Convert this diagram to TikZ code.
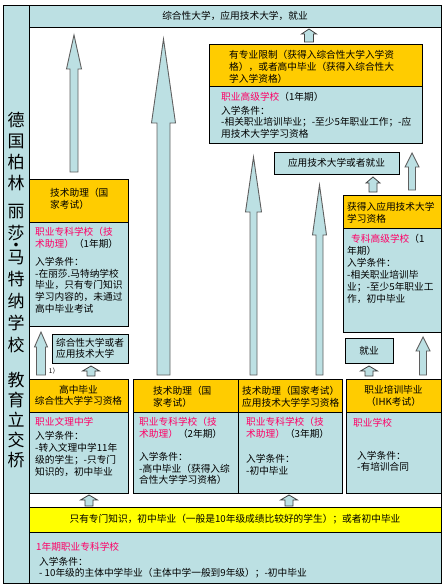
\documentclass[tikz,border=0pt]{standalone}
\usepackage{fontspec}
\setmainfont{Noto Sans CJK SC}
\usetikzlibrary{positioning,calc}

\definecolor{paleblue}{RGB}{188,224,227}
\definecolor{headyellow}{RGB}{255,204,0}
\definecolor{baryellow}{RGB}{255,255,0}
\definecolor{schoolpink}{RGB}{255,0,102}
\definecolor{arrowline}{RGB}{95,95,95}

\newcommand{\pink}[1]{\textcolor{schoolpink}{#1}}
% foot, tip, shaft half width, head half width, head length
\newcommand{\blockup}[6][arrowbody]{%
  \draw[#1] ($(#2)+(-#4,0)$) -- ($(#3)+(-#4,#6)$) -- ($(#3)+(-#5,#6)$) -- (#3)
    -- ($(#3)+(#5,#6)$) -- ($(#3)+(#4,#6)$) -- ($(#2)+(#4,0)$) -- cycle;}

\begin{document}
\begin{tikzpicture}[x=1pt, y=-1pt,
    box/.style={draw, line width=0.8pt, outer sep=0pt, inner sep=0pt, anchor=north west,
      font=\fontsize{9.7}{12}\selectfont},
    bluebox/.style={box, fill=paleblue},
    headbox/.style={box, fill=headyellow},
    barbox/.style={box, fill=baryellow},
    txt/.style={inner sep=0pt, anchor=base west, align=left, font=\fontsize{9.7}{12}\selectfont},
    sidetxt/.style={inner sep=0pt, anchor=base, align=center, font=\fontsize{17}{21}\selectfont},
    arrowbody/.style={draw=arrowline, line width=0.9pt, fill=paleblue, line join=miter},
    smallbody/.style={draw=black!75, line width=0.8pt, fill=paleblue, line join=miter}
  ]
  \useasboundingbox (0,0) rectangle (446,586);

  % frame, side column, top line
  \node[box, minimum width=438pt, minimum height=578pt] (frame) at (3,5) {};
  \node[bluebox, minimum width=26pt, minimum height=578pt] (side) at (3,5) {};
  \node[sidetxt] (side1) at (16,189.5) {德\\国\\柏\\林};
  \node[sidetxt, font=\fontsize{17}{22}\selectfont] (side2) at (16,351.5) {丽\\莎\\[-10pt]·\\[-10pt]马\\特\\纳\\学\\校};
  \node[sidetxt, font=\fontsize{17}{20}\selectfont] (side3) at (16,466.5) {教\\育\\立\\交\\桥};
  \node[bluebox, minimum width=412pt, minimum height=22pt] (top) at (29,5) {综合性大学，应用技术大学，就业};

  % upper right
  \node[headbox, minimum width=213pt, minimum height=42pt] (hgym) at (209,44) {};
  \node[bluebox, minimum width=213pt, minimum height=57pt, below=0pt of hgym] (bgym) {};
  \node[txt] (thgym) at (229,82.7) {有专业限制（获得入综合性大学入学资\\格），或者高中毕业（获得入综合性大\\学入学资格）};
  \node[txt, font=\fontsize{9.7}{11.5}\selectfont] (tbgym) at (221,137.2) {\pink{职业高级学校}（1年期）\\[2pt]入学条件：\\-相关职业培训毕业；-至少5年职业工作；-应\\用技术大学学习资格};

  \node[bluebox, minimum width=125pt, minimum height=22pt] (uasjob) at (274,152) {应用技术大学或者就业};

  \node[headbox, minimum width=98pt, minimum height=33pt] (hfos) at (343,195) {};
  \node[bluebox, minimum width=98pt, minimum height=104pt, below=0pt of hfos] (bfos) {};
  \node[txt] (thfos) at (347,222.7) {获得入应用技术大学\\学习资格};
  \node[txt] (tbfos) at (347,302.7) {\hspace*{4pt}\pink{专科高级学校}（1\\年期）\\入学条件：\\-相关职业培训毕\\业；-至少5年职业工\\作，初中毕业};

  \node[bluebox, minimum width=48pt, minimum height=25pt] (job) at (345,338) {就业};

  % upper left
  \node[headbox, minimum width=99pt, minimum height=43pt] (htech) at (29,179) {};
  \node[bluebox, minimum width=99pt, minimum height=104pt, below=0pt of htech] (btech) {};
  \node[txt] (thtech) at (50,208.7) {技术助理（国\\家考试）};
  \node[txt, font=\fontsize{9.7}{11.8}\selectfont] (tbtech) at (35,312.5) {\pink{职业专科学校（技}\\\pink{术助理）}（1年期）\\[6pt]入学条件：\\-在丽莎.马特纳学校\\毕业，只有专门知识\\学习内容的，未通过\\高中毕业考试};

  \node[bluebox, minimum width=76pt, minimum height=29pt, align=left,
    font=\fontsize{9.7}{11}\selectfont] (unifh) at (52,334) {综合性大学或者\\应用技术大学};
  \node[inner sep=0pt, font=\fontsize{6.5}{7}\selectfont] (note1) at (54,371) {1）};

  % lower row
  \node[headbox, minimum width=99pt, minimum height=33pt, align=center,
    font=\fontsize{9.7}{11}\selectfont] (habi) at (29,379) {高中毕业\\综合性大学学习资格};
  \node[bluebox, minimum width=99pt, minimum height=81pt, below=0pt of habi] (babi) {};
  \node[txt] (tbabi) at (35,475.7) {\pink{职业文理中学}\\[2pt]入学条件：\\-转入文理中学11年\\级的学生；-只专门\\知识的，初中毕业};

  \node[headbox, minimum width=105pt, minimum height=33pt] (htech2) at (133,379) {};
  \node[bluebox, minimum width=105pt, minimum height=81pt, below=0pt of htech2] (btech2) {};
  \node[txt, font=\fontsize{9.7}{11.5}\selectfont] (thtech2) at (153,406.2) {技术助理（国\\家考试）};
  \node[txt, font=\fontsize{9.7}{11.5}\selectfont] (tbtech2) at (139,483.7) {\pink{职业专科学校（技}\\\pink{术助理）}（2年期）\\[12pt]入学条件：\\-高中毕业（获得入综\\合性大学学习资格）};

  \node[headbox, minimum width=104pt, minimum height=33pt] (htech3) at (238,379) {};
  \node[bluebox, minimum width=104pt, minimum height=81pt, below=0pt of htech3] (btech3) {};
  \node[txt, font=\fontsize{9.7}{11.5}\selectfont] (thtech3) at (242,406.2) {技术助理（国家考试）\\应用技术大学学习资格};
  \node[txt, font=\fontsize{9.7}{11.5}\selectfont] (tbtech3) at (246,474.2) {\pink{职业专科学校（技}\\\pink{术助理）}（3年期）\\[14pt]入学条件：\\-初中毕业};

  \node[headbox, minimum width=95pt, minimum height=33pt, align=center] (hvoc) at (346,379) {职业培训毕业\\（IHK考试）};
  \node[bluebox, minimum width=95pt, minimum height=81pt, below=0pt of hvoc] (bvoc) {};
  \node[txt] (tbvoc1) at (353,426.7) {\pink{职业学校}};
  \node[txt, font=\fontsize{9.7}{11}\selectfont] (tbvoc2) at (357,470.7) {入学条件：\\-有培训合同};

  % bottom
  \node[barbox, minimum width=412pt, minimum height=25pt] (entry) at (29,507) {只有专门知识，初中毕业（一般是10年级成绩比较好的学生）；或者初中毕业};
  \node[bluebox, minimum width=412pt, minimum height=51pt] (prep) at (29,532) {};
  \node[txt] (tprep1) at (36,550.7) {\pink{1年期职业专科学校}};
  \node[txt, font=\fontsize{9.7}{11}\selectfont] (tprep2) at (39,576.7) {入学条件：\\- 10年级的主体中学毕业（主体中学一般到9年级）；-初中毕业};

  % arrows
  \coordinate (up1f) at (74,172);    \coordinate (up1t) at (74,35);
  \coordinate (up2f) at (163.5,375); \coordinate (up2t) at (163.5,39);
  \coordinate (up3f) at (253.5,375); \coordinate (up3t) at (253.5,157);
  \coordinate (up4f) at (319.5,375); \coordinate (up4t) at (319.5,185);
  \coordinate (up5f) at (412,190);   \coordinate (up5t) at (412,153);
  \coordinate (up6f) at (423,375);   \coordinate (up6t) at (423,337);
  \coordinate (up7f) at (41,375);    \coordinate (up7t) at (41,332);
  \blockup{up1f}{up1t}{4}{7.5}{34}
  \blockup{up2f}{up2t}{6.5}{12}{84}
  \blockup{up3f}{up3t}{3.5}{8}{55}
  \blockup{up4f}{up4t}{3.5}{7}{50}
  \blockup{up5f}{up5t}{3.5}{7}{14}
  \blockup{up6f}{up6t}{3.5}{7}{14}
  \blockup{up7f}{up7t}{4.5}{6.5}{15}

  \coordinate (s1f) at (309,42);  \coordinate (s1t) at (309,29);
  \coordinate (s2f) at (373,192); \coordinate (s2t) at (373,177);
  \coordinate (s3f) at (369,376); \coordinate (s3t) at (369,366);
  \coordinate (s4f) at (91,376);  \coordinate (s4t) at (91,366);
  \coordinate (s5f) at (89,506);  \coordinate (s5t) at (89,495);
  \coordinate (s6f) at (289,506); \coordinate (s6t) at (289,495);
  \blockup[smallbody]{s1f}{s1t}{4.5}{7.5}{5}
  \blockup[smallbody]{s2f}{s2t}{4}{7}{6}
  \blockup[smallbody]{s3f}{s3t}{4}{8.5}{5}
  \blockup[smallbody]{s4f}{s4t}{4}{8.5}{5}
  \blockup[smallbody]{s5f}{s5t}{4}{8.5}{5}
  \blockup[smallbody]{s6f}{s6t}{4}{8.5}{5}
\end{tikzpicture}
\end{document}
